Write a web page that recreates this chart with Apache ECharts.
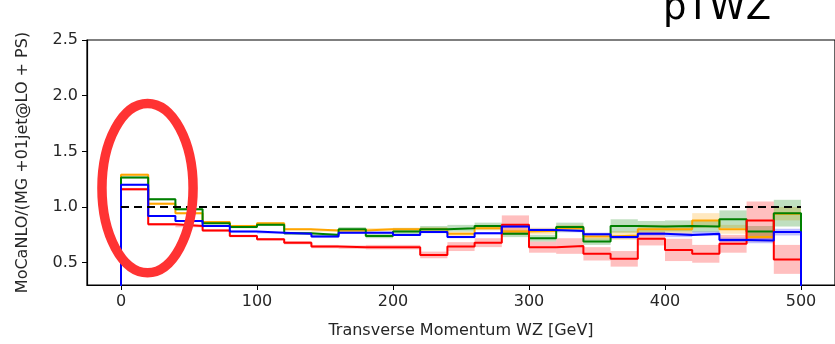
<!DOCTYPE html>
<html>
<head>
<meta charset="utf-8">
<script src="https://cdn.jsdelivr.net/npm/echarts@6/dist/echarts.min.js"></script>
<style>
html, body { margin: 0; padding: 0; background: #fff; }
#chart { width: 835px; height: 344px; }
</style>
</head>
<body>
<div id="chart"></div>
<script>
// bin edges of the pT(WZ) histogram, GeV
const binEdges = [0, 20, 40, 60, 80, 100, 120, 140, 160, 180, 200, 220, 240, 260, 280, 300, 320, 340, 360, 380, 400, 420, 440, 460, 480, 500];

// ratio per bin, and half width of the uncertainty band
const orangeVals = [1.29, 1.03, 0.945, 0.865, 0.83, 0.855, 0.80, 0.79, 0.79, 0.80, 0.80, 0.80, 0.76, 0.81, 0.78, 0.785, 0.81, 0.735, 0.745, 0.80, 0.80, 0.88, 0.80, 0.73, 0.94];
const orangeErr  = [0.01, 0.01, 0.01, 0.01, 0.01, 0.01, 0.01, 0.012, 0.012, 0.012, 0.015, 0.02, 0.02, 0.02, 0.03, 0.03, 0.03, 0.03, 0.04, 0.04, 0.04, 0.065, 0.04, 0.04, 0.06];
const greenVals  = [1.265, 1.07, 0.98, 0.855, 0.82, 0.84, 0.765, 0.75, 0.80, 0.74, 0.78, 0.80, 0.81, 0.83, 0.76, 0.72, 0.82, 0.69, 0.83, 0.825, 0.83, 0.825, 0.89, 0.78, 0.945];
const greenErr   = [0.01, 0.01, 0.01, 0.01, 0.01, 0.01, 0.012, 0.015, 0.02, 0.02, 0.03, 0.03, 0.03, 0.03, 0.03, 0.03, 0.04, 0.03, 0.06, 0.05, 0.05, 0.05, 0.08, 0.05, 0.12];
const blueVals   = [1.20, 0.92, 0.875, 0.83, 0.78, 0.77, 0.76, 0.735, 0.77, 0.77, 0.75, 0.775, 0.73, 0.765, 0.825, 0.795, 0.785, 0.755, 0.73, 0.76, 0.75, 0.76, 0.705, 0.70, 0.775];
const blueErr    = [0.008, 0.008, 0.008, 0.008, 0.008, 0.008, 0.008, 0.01, 0.01, 0.01, 0.01, 0.01, 0.01, 0.01, 0.012, 0.012, 0.012, 0.015, 0.015, 0.015, 0.02, 0.02, 0.02, 0.025, 0.03];
const redVals    = [1.16, 0.845, 0.83, 0.79, 0.74, 0.71, 0.68, 0.645, 0.64, 0.64, 0.64, 0.57, 0.645, 0.68, 0.84, 0.64, 0.65, 0.58, 0.535, 0.715, 0.615, 0.58, 0.67, 0.88, 0.53];
const redErr     = [0.012, 0.012, 0.012, 0.012, 0.012, 0.012, 0.015, 0.015, 0.015, 0.02, 0.02, 0.03, 0.04, 0.04, 0.085, 0.05, 0.07, 0.06, 0.07, 0.06, 0.1, 0.08, 0.08, 0.17, 0.13];

const refLine = [[0, 1], [500, 1]];
const xTicks = [0, 100, 200, 300, 400, 500];
const yTicks = [0.5, 1.0, 1.5, 2.0, 2.5];

// red ring drawn over the first bins (centre and radii in data units)
const ringCenter = [19.5, 1.17];
const ringRadius = [33.5, 0.76];

const font = 'DejaVu Sans';

function stepData(vals) {
    const pts = [[binEdges[0], 0]];
    vals.forEach((v, i) => {
        pts.push([binEdges[i], v]);
        pts.push([binEdges[i + 1], v]);
    });
    pts.push([binEdges[binEdges.length - 1], 0]);
    return pts;
}

function bandSeries(vals, errs, color) {
    const data = vals.map((v, i) => [binEdges[i], binEdges[i + 1], v - errs[i], v + errs[i]]);
    return {
        type: 'custom',
        silent: true,
        z: 1,
        data: data,
        encode: { x: [0, 1], y: [2, 3] },
        renderItem: function (params, api) {
            const p0 = api.coord([api.value(0), api.value(3)]);
            const p1 = api.coord([api.value(1), api.value(2)]);
            return {
                type: 'rect',
                shape: { x: p0[0], y: p0[1], width: p1[0] - p0[0], height: p1[1] - p0[1] },
                style: { fill: color, opacity: 0.25 }
            };
        }
    };
}

function lineSeries(vals, color) {
    return {
        type: 'line',
        data: stepData(vals),
        showSymbol: false,
        clip: true,
        z: 3,
        lineStyle: { color: color, width: 2 },
        itemStyle: { color: color }
    };
}

const chart = echarts.init(document.getElementById('chart'));
const option = {
    animation: false,
    backgroundColor: '#fff',
    title: {
        text: 'pTWZ',
        left: 663,
        top: -9,
        padding: 0,
        textStyle: { fontFamily: font, fontSize: 37, fontWeight: 'normal', color: '#000' }
    },
    grid: {
        left: 87, right: -5, top: 40, bottom: 58,
        show: true, borderColor: '#000', borderWidth: 1.2, backgroundColor: 'transparent'
    },
    xAxis: {
        type: 'value',
        min: -25, max: 525,
        name: 'Transverse Momentum WZ [GeV]',
        nameLocation: 'middle',
        nameGap: 38,
        nameTextStyle: { fontFamily: font, fontSize: 16, color: '#262626' },
        axisLine: { show: true, onZero: false, lineStyle: { color: '#000', width: 1.2 } },
        axisTick: { show: true, length: 5, lineStyle: { color: '#000' }, customValues: xTicks },
        axisLabel: { customValues: xTicks, margin: 9, fontFamily: font, fontSize: 16, color: '#262626' },
        splitLine: { show: false }
    },
    yAxis: {
        type: 'value',
        min: 0.3, max: 2.5,
        name: 'MoCaNLO/(MG +01jet@LO + PS)',
        nameLocation: 'middle',
        nameGap: 56,
        nameTextStyle: { fontFamily: font, fontSize: 16, color: '#262626' },
        axisLine: { show: true, onZero: false, lineStyle: { color: '#000', width: 1.2 } },
        axisTick: { show: true, length: 5, lineStyle: { color: '#000' }, customValues: yTicks },
        axisLabel: {
            customValues: yTicks, margin: 9, fontFamily: font, fontSize: 16, color: '#262626',
            formatter: v => v.toFixed(1)
        },
        splitLine: { show: false }
    },
    series: [
        bandSeries(orangeVals, orangeErr, '#ffa500'),
        bandSeries(greenVals, greenErr, '#008000'),
        bandSeries(redVals, redErr, '#ff0000'),
        bandSeries(blueVals, blueErr, '#0000ff'),
        lineSeries(orangeVals, '#ffa500'),
        lineSeries(greenVals, '#008000'),
        lineSeries(redVals, '#ff0000'),
        lineSeries(blueVals, '#0000ff'),
        {
            type: 'line',
            data: refLine,
            showSymbol: false,
            z: 4,
            lineStyle: { color: '#000', width: 2, type: [8, 5] }
        }
    ]
};
chart.setOption(option);

const c = chart.convertToPixel({ gridIndex: 0 }, ringCenter);
const e = chart.convertToPixel({ gridIndex: 0 }, [ringCenter[0] + ringRadius[0], ringCenter[1] - ringRadius[1]]);
chart.setOption({
    graphic: [{
        type: 'ellipse',
        z: 100,
        shape: { cx: c[0], cy: c[1], rx: e[0] - c[0], ry: e[1] - c[1] },
        style: { fill: 'none', stroke: '#ff3333', lineWidth: 9.5 }
    }]
});
</script>
</body>
</html>
